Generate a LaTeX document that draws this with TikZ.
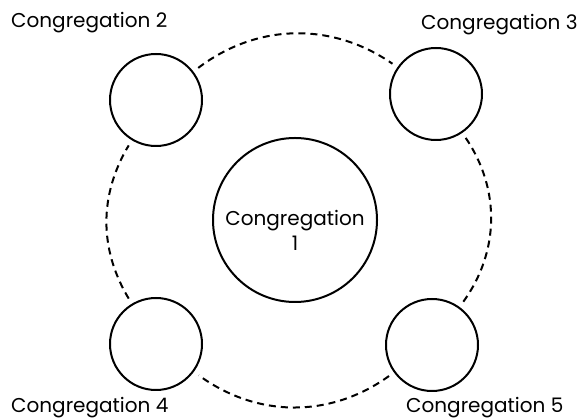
\documentclass[tikz,border=0pt]{standalone}
\usepackage{fontspec}
\setmainfont{Poppins}
\usetikzlibrary{positioning}

\begin{document}
\begin{tikzpicture}[x=1pt, y=1pt, font=\fontsize{20}{25}\selectfont,
  cong/.style={draw, circle, line width=2pt, minimum size=92pt, inner sep=0pt},
  tag/.style={anchor=base west, inner sep=0pt},
  ring/.style={line width=2pt, dash pattern=on 7pt off 5pt, shorten >=6pt, shorten <=6pt}]
\useasboundingbox (0,0) rectangle (585,419);

% the four outer congregations
\node[cong] (c2) at (156,319) {};
\node[cong] (c3) at (436,325) {};
\node[cong] (c4) at (156,75)  {};
\node[cong] (c5) at (432,74)  {};

% centre
\node[cong, minimum size=164pt] (c1) at (295,199) {};
\node[align=center, inner sep=0pt] (c1t) at ([yshift=-10pt]c1.center) {Congregation\\1};

% labels
\node[tag] (l2) at (11,391) {Congregation 2};
\node[tag] (l3) at (421,389) {Congregation 3};
\node[tag] (l4) at (11,6)   {Congregation 4};
\node[tag] (l5) at (406,6)  {Congregation 5};

% dashed ring
\draw[ring] (c2) to[bend left=36] (c3);
\draw[ring] (c3) to[bend left=35] (c5);
\draw[ring] (c5) to[bend left=36] (c4);
\draw[ring] (c4) to[bend left=31] (c2);
\end{tikzpicture}
\end{document}
